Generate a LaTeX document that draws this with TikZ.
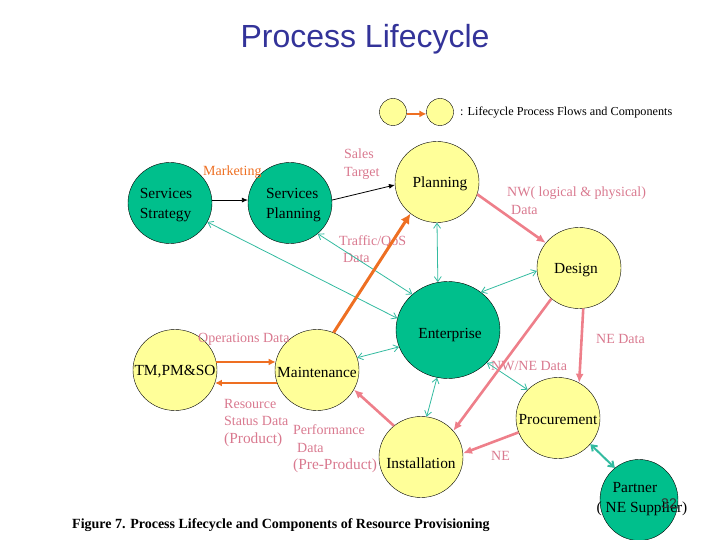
\documentclass[tikz,border=0pt]{standalone}
\usepackage{fontspec}
\setmainfont{Liberation Serif}
\newfontfamily\titlefont{Liberation Sans}
\usetikzlibrary{shapes.geometric,arrows.meta}
\definecolor{titleblue}{HTML}{333399}
\definecolor{procyellow}{HTML}{FFFF99}
\definecolor{procgreen}{HTML}{00BF8C}
\definecolor{flowteal}{HTML}{33BBA0}
\definecolor{floworange}{HTML}{EE6F22}
\definecolor{flowpink}{HTML}{EE7F8A}
\definecolor{datapink}{HTML}{D9798F}
\tikzset{
	proc/.style={draw, ellipse, inner sep=0pt, minimum width=84pt, minimum height=81pt},
	yellowproc/.style={proc, fill=procyellow},
	greenproc/.style={proc, fill=procgreen},
	procname/.style={align=left, inner sep=0pt, yshift=-2pt, font=\fontsize{15.4}{20}\selectfont},
	datalabel/.style={align=left, inner sep=0pt, text=datapink, font=\fontsize{14}{17.5}\selectfont},
	barb/.tip={Straight Barb[length=5pt, width=7pt]},
	solidtip/.tip={Latex[length=9pt, width=8pt]},
}

\begin{document}
\begin{tikzpicture}[x=1pt, y=-1pt]
	\useasboundingbox (0,0) rectangle (720,540);

	\node[text=titleblue, font=\titlefont\fontsize{32}{38}\selectfont] (title) at (365,39) {Process Lifecycle};

	\node[yellowproc, minimum width=27pt, minimum height=27pt] (legenda) at (393,112) {};
	\node[yellowproc, minimum width=27pt, minimum height=27pt] (legendb) at (440,112) {};
	\node[anchor=west, inner sep=0pt, font=\fontsize{12.2}{14}\selectfont] (legendtext) at (460,113) {: Lifecycle Process Flows and Components};

	\node[greenproc, label={[procname, xshift=-4pt]center:Services\\Strategy}] (strategy) at (170,203) {};
	\node[greenproc, label={[procname, xshift=3.5pt]center:Services\\Planning}] (splanning) at (290,203) {};
	\node[yellowproc, label={[procname, xshift=3pt]center:Planning}] (planning) at (437,182) {};
	\node[yellowproc, label={[procname, xshift=-3pt]center:Design}] (design) at (579,268) {};
	\node[greenproc, minimum width=104pt, minimum height=97pt, label={[procname, yshift=-3pt, xshift=2pt]center:Enterprise}] (enterprise) at (448,330) {};
	\node[yellowproc, label={[procname]center:TM,PM\&SO}] (tmpm) at (175,370) {};
	\node[yellowproc, label={[procname]center:Maintenance}] (maintenance) at (317,370) {};
	\node[yellowproc, label={[procname, yshift=-4pt]center:Installation}] (installation) at (421,457) {};
	\node[yellowproc, label={[procname]center:Procurement}] (procurement) at (558,418) {};
	\node[greenproc, minimum width=78pt, label={[procname, xshift=3pt, yshift=2.5pt]center:\hspace*{16pt}Partner\\( NE Supplier)}] (partner) at (639,500) {};

	\node[datalabel, text=floworange, anchor=west] (marketing) at (203,172) {Marketing};
	\node[datalabel, anchor=north west] (sales) at (344,149) {Sales\\Target};
	\node[datalabel, anchor=north west] (traffic) at (339,235) {Traffic/QoS\\\hspace*{4pt}Data};
	\node[datalabel, anchor=north west] (nwdata) at (507,187) {NW( logical \& physical)\\\hspace*{4pt}Data};
	\node[datalabel, anchor=west] (nedata) at (596,339) {NE Data};
	\node[datalabel, anchor=west] (nwnedata) at (491,366) {NW/NE Data};
	\node[datalabel, anchor=west] (ne) at (491,456) {NE};
	\node[datalabel, anchor=west] (opsdata) at (198,339) {Operations Data};
	\node[datalabel, anchor=north west] (resource) at (224,399) {Resource\\Status Data\\{\fontsize{15.4}{18}\selectfont (Product)}};
	\node[datalabel, anchor=north west] (perf) at (293,424.5) {Performance\\\hspace*{4pt}Data\\{\fontsize{15.4}{18}\selectfont (Pre-Product)}};

	\node[anchor=west, inner sep=0pt, font=\bfseries\fontsize{14}{16}\selectfont] (caption) at (72,525) {Figure 7. Process Lifecycle and Components of Resource Provisioning};
	\node[font=\titlefont\fontsize{14}{16}\selectfont, text=black!80] (pagenum) at (669,504) {32};

	\begin{scope}[every path/.style={draw, -{Latex[length=6pt, width=5pt]}, line width=0.8pt}]
		\draw (strategy.4) -- (splanning.176);
		\draw (splanning.4) -- (planning.184);
	\end{scope}

	\begin{scope}[every path/.style={draw=flowteal, {barb}-{barb}, line width=0.8pt}]
		\draw (strategy.-27) -- (enterprise.167);
		\draw (splanning.-48) -- (enterprise.135);
		\draw (planning.270) -- (enterprise.102);
		\draw (enterprise.49) -- (design.184);
		\draw (maintenance.17) -- (enterprise.199);
		\draw (enterprise.-40) -- (procurement.137);
		\draw (enterprise.257) -- (installation.82);
		\draw[line width=2pt] (procurement.-39) -- (partner.127);
	\end{scope}

	\begin{scope}[every path/.style={draw=floworange, -{solidtip}, line width=2pt}]
		\draw[-{Latex[length=7pt, width=7pt]}] (legenda.-8) -- (legendb.188);
		\draw[line width=3pt, -{Latex[length=10pt, width=10pt]}] (maintenance.66) -- (planning.230);
		\draw[-{Latex[length=7pt, width=7pt]}] (tmpm.11) -- (maintenance.169);
		\draw[-{Latex[length=7pt, width=7pt]}] (maintenance.198) -- (tmpm.-18);
	\end{scope}

	\begin{scope}[every path/.style={draw=flowpink, -{solidtip}, line width=2.6pt}]
		\draw (planning.-17) -- (design.143);
		\draw (design.228) -- (installation.39);
		\draw (design.276) -- (procurement.59);
		\draw (procurement.200) -- (installation.5);
		\draw (installation.131) -- (maintenance.-28);
	\end{scope}

\end{tikzpicture}
\end{document}
